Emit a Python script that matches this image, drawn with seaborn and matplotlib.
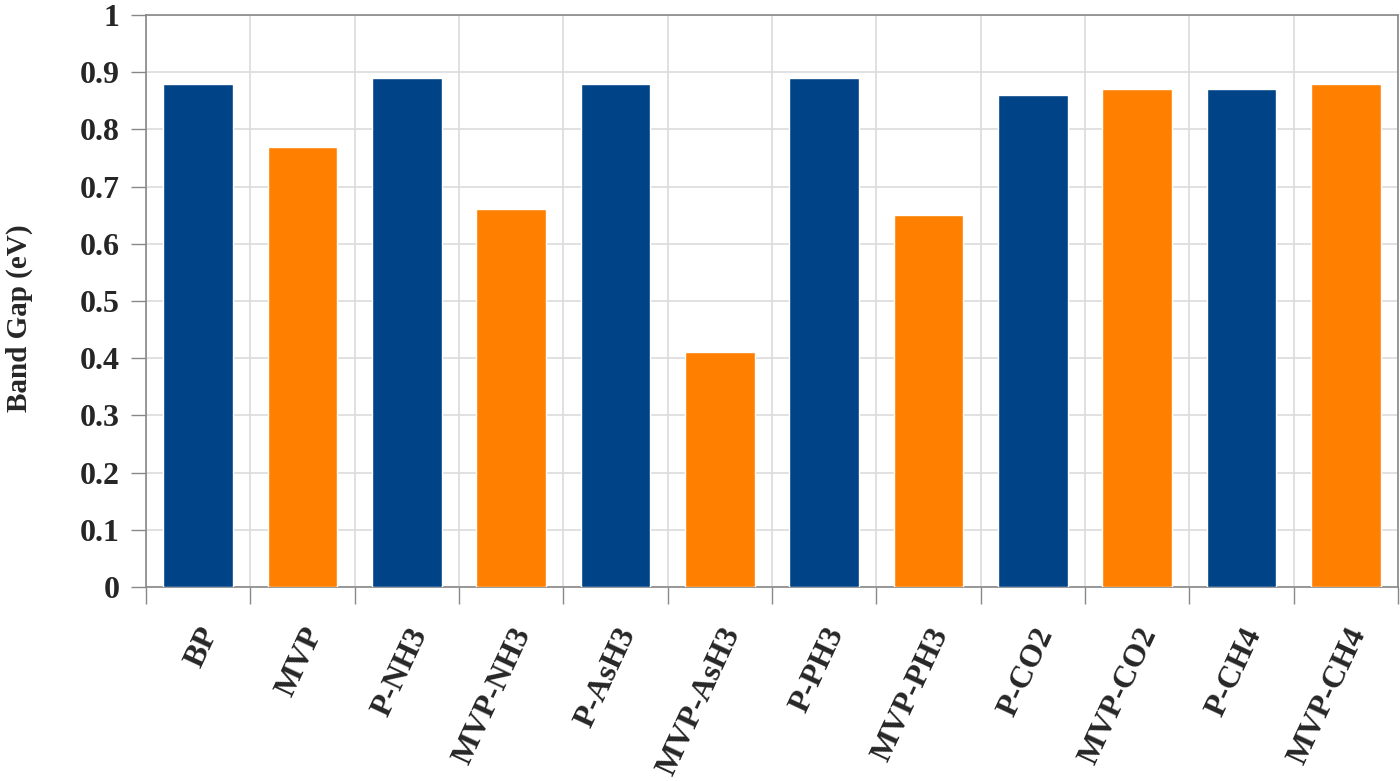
import numpy as np
import pandas as pd
import matplotlib
matplotlib.use("Agg")
import matplotlib.pyplot as plt
import seaborn as sns
from matplotlib.ticker import FixedLocator, MultipleLocator, FuncFormatter

# Datos
muestras = ["BP", "MVP", "P-NH3", "MVP-NH3", "P-AsH3", "MVP-AsH3",
            "P-PH3", "MVP-PH3", "P-CO2", "MVP-CO2", "P-CH4", "MVP-CH4"]
band_gap = [0.88, 0.77, 0.89, 0.66, 0.88, 0.41, 0.89, 0.65, 0.86, 0.87, 0.87, 0.88]
tipo = ["P", "MVP", "P", "MVP", "P", "MVP", "P", "MVP", "P", "MVP", "P", "MVP"]

PALETA = {"P": "#004386", "MVP": "#FF8000"}

sns.set_theme(style="white")
plt.rcParams["font.family"] = ["Liberation Serif", "DejaVu Serif"]
plt.rcParams["font.weight"] = "bold"

df = pd.DataFrame({"Muestra": muestras, "Band Gap": band_gap, "Tipo": tipo})
colores = [PALETA[t] for t in tipo]

fig = plt.figure(figsize=(14, 7.81), dpi=100)
ax = fig.add_axes([0.1043, 0.2484, 0.8943, 0.7324])

sns.barplot(data=df, x="Muestra", y="Band Gap", hue="Muestra", palette=colores,
            width=0.67, errorbar=None, legend=False, ax=ax, zorder=3, saturation=1)

ax.set_ylim(0, 1)
ax.set_xlim(-0.5, len(muestras) - 0.5)
ax.yaxis.set_major_locator(MultipleLocator(0.1))
ax.yaxis.set_major_formatter(FuncFormatter(
    lambda v, pos: "0" if abs(v) < 1e-9 else ("1" if abs(v - 1) < 1e-9 else f"{v:.1f}")))

# líneas de división entre categorías
ax.xaxis.set_minor_locator(FixedLocator(np.arange(-0.5, len(muestras), 1)))
ax.grid(True, axis="y", which="major", color="#dcdcdc", lw=1.2, zorder=0)
ax.grid(True, axis="x", which="minor", color="#dcdcdc", lw=1.2, zorder=0)
ax.tick_params(axis="x", which="major", length=0, pad=26)
ax.tick_params(axis="x", which="minor", length=12, width=1, color="#888888", bottom=True)
ax.tick_params(axis="y", which="major", length=11, width=1, color="#888888", left=True, pad=8)

for s in ax.spines.values():
    s.set_color("#888888")
    s.set_linewidth(1.2)

plt.setp(ax.get_xticklabels(), rotation=65, ha="right", rotation_mode="anchor",
         fontsize=23, fontweight="bold")
plt.setp(ax.get_yticklabels(), fontsize=23, fontweight="bold")
ax.set_xlabel("")
ax.set_ylabel("Band Gap (eV)", fontsize=21, fontweight="bold")
ax.yaxis.set_label_coords(-0.09, 0.47)

fig.savefig("out.png", dpi=100)
